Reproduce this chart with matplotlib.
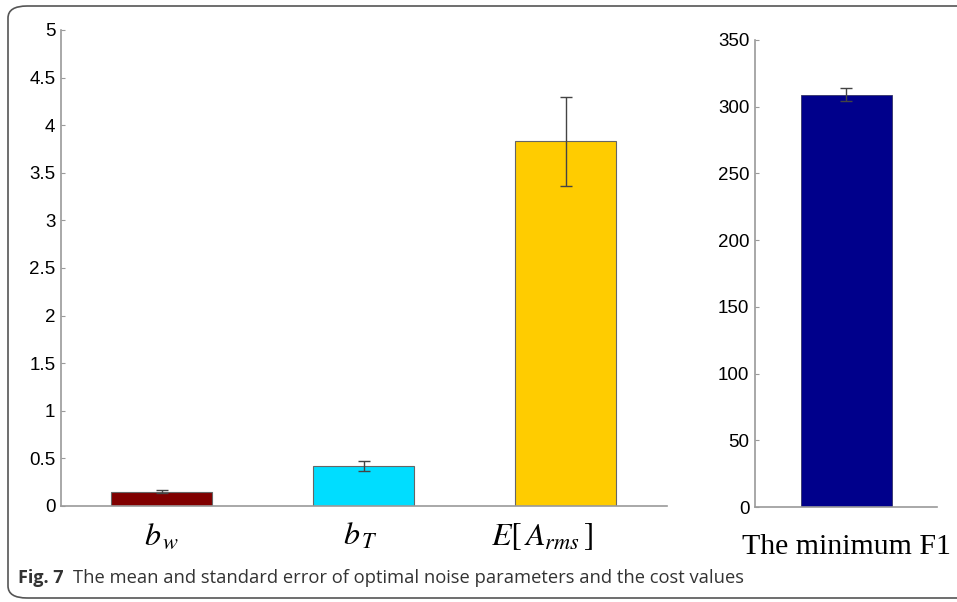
import matplotlib.pyplot as plt
from matplotlib.patches import FancyBboxPatch
from matplotlib.transforms import ScaledTranslation

plt.rcParams["mathtext.fontset"] = "stix"

# Data
PARAM_LABELS = [r"$b_{\,w}$", r"$b_{\,T}$", r"$E\left[\,A_{rms}\,\right]$"]
PARAM_MEANS = [0.15, 0.42, 3.83]
PARAM_ERRORS = [0.013, 0.05, 0.47]
PARAM_COLORS = ["#800000", "#00DDFF", "#FFCC00"]
PARAM_TICKS = [0, 0.5, 1, 1.5, 2, 2.5, 3, 3.5, 4, 4.5, 5]
PARAM_TICK_LABELS = ["0", "0.5", "1", "1.5", "2", "2.5", "3", "3.5", "4", "4.5", "5"]
LABEL_SHIFT_PX = [0, -4, -24]  # the x labels sit a little left of the bars

COST_LABEL = ["The minimum F1"]
COST_MEAN = [309]
COST_ERROR = [5]
COST_COLOR = ["#00008B"]
COST_TICKS = [0, 50, 100, 150, 200, 250, 300, 350]

CAPTION_BOLD = "Fig. 7"
CAPTION_TEXT = "The mean and standard error of optimal noise parameters and the cost values"

AXIS_GREY = "#9a9a9a"
ERR_GREY = "#444444"


def style_axis(ax):
    """Matlab-ish look: only left and bottom spines, grey, small inward ticks."""
    for side in ["top", "right"]:
        ax.spines[side].set_visible(False)
    for side in ["left", "bottom"]:
        ax.spines[side].set_color(AXIS_GREY)
        ax.spines[side].set_linewidth(1.2)
    ax.tick_params(axis="y", direction="in", length=3, color=AXIS_GREY,
                   labelsize=13.5, pad=4)
    ax.tick_params(axis="x", length=0)
    for lbl in ax.get_yticklabels():
        lbl.set_fontfamily("Liberation Sans")


fig = plt.figure(figsize=(9.57, 6.02), dpi=100)

# rounded frame round the figure
frame = FancyBboxPatch((8 / 957, 4 / 602), 1.2, 592 / 602,
                       boxstyle="round,pad=0,rounding_size=0.02",
                       transform=fig.transFigure, fill=False,
                       edgecolor="#555555", linewidth=1.2, clip_on=False)
fig.patches.append(frame)

# Left panel: noise parameters
ax1 = fig.add_axes([61 / 957, 1 - 506 / 602, 606 / 957, 476 / 602])
x1 = list(range(1, len(PARAM_MEANS) + 1))
ax1.bar(x1, PARAM_MEANS, width=0.5, color=PARAM_COLORS,
        edgecolor="#666666", linewidth=0.8,
        yerr=PARAM_ERRORS, error_kw=dict(ecolor=ERR_GREY, elinewidth=1,
                                         capsize=4.5, capthick=1))
ax1.set_xlim(0.5, 3.5)
ax1.set_ylim(0, 5)
ax1.set_yticks(PARAM_TICKS)
ax1.set_yticklabels(PARAM_TICK_LABELS)
ax1.set_xticks(x1)
ax1.set_xticklabels(PARAM_LABELS, fontsize=23)
style_axis(ax1)
ax1.tick_params(axis="x", pad=11)
for lbl, dx in zip(ax1.get_xticklabels(), LABEL_SHIFT_PX):
    lbl.set_transform(lbl.get_transform()
                      + ScaledTranslation(dx / 100, 0, fig.dpi_scale_trans))

# Right panel: cost value
ax2 = fig.add_axes([755 / 957, 1 - 507 / 602, 182 / 957, 467 / 602])
ax2.bar([1], COST_MEAN, width=0.5, color=COST_COLOR,
        edgecolor="#333366", linewidth=0.6,
        yerr=COST_ERROR, error_kw=dict(ecolor=ERR_GREY, elinewidth=1,
                                       capsize=4.5, capthick=1))
ax2.set_xlim(0.5, 1.5)
ax2.set_ylim(0, 350)
ax2.set_yticks(COST_TICKS)
ax2.set_xticks([1])
ax2.set_xticklabels(COST_LABEL, fontsize=21.5, fontfamily="Liberation Serif")
style_axis(ax2)
ax2.tick_params(axis="x", pad=19.5)

# caption
fig.text(18 / 957, 1 - 583 / 602, CAPTION_BOLD, fontsize=13,
         fontweight="bold", fontfamily="Open Sans", color="#333333",
         va="baseline")
fig.text(73 / 957, 1 - 583 / 602, CAPTION_TEXT, fontsize=13.2,
         fontfamily="Open Sans", color="#333333", va="baseline")

fig.savefig("out.png", dpi=100)
